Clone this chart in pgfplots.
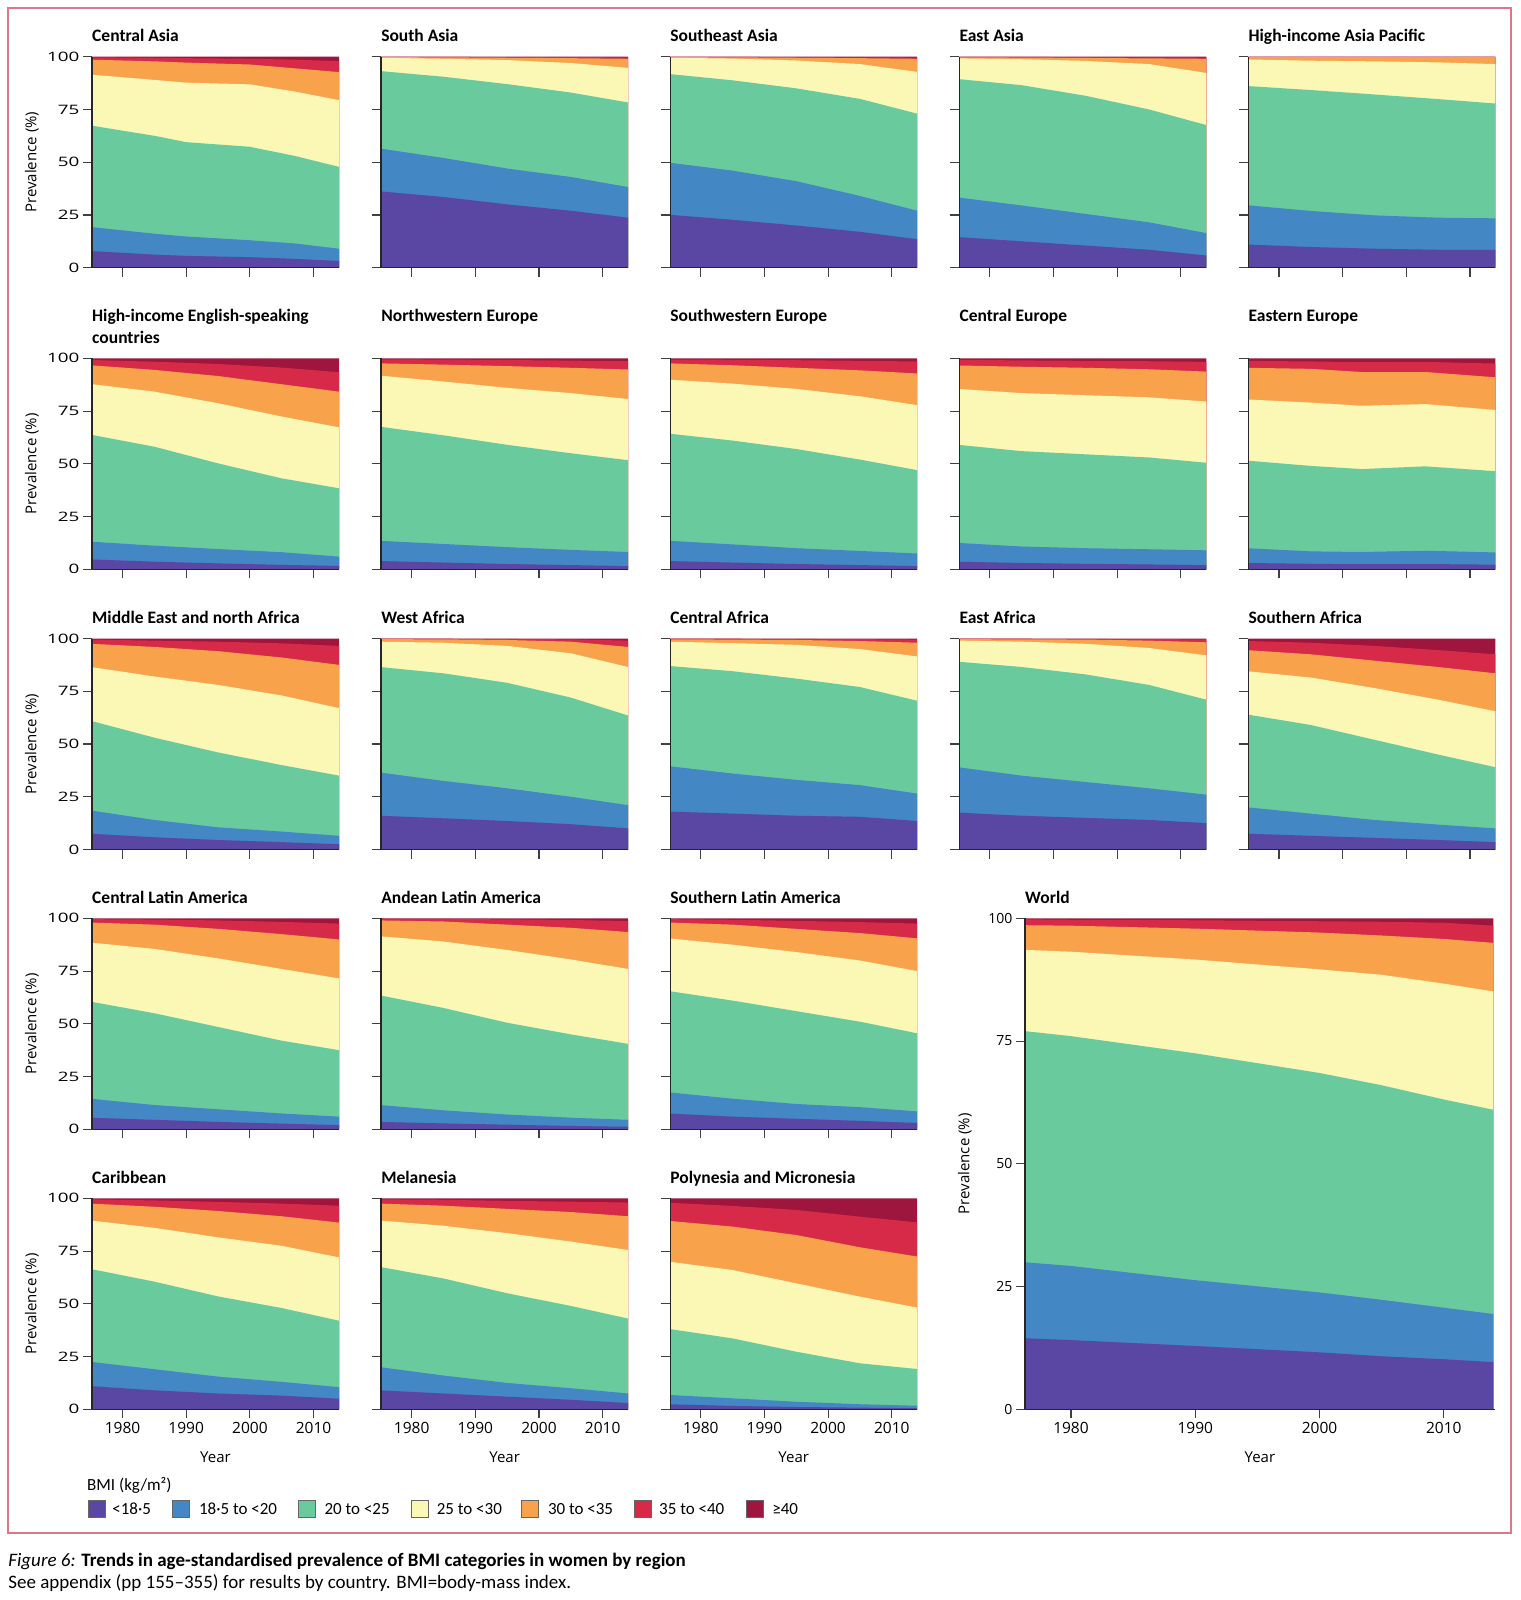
\documentclass[border=0pt]{standalone}
\usepackage{graphicx}
\usepackage{pgfplots}
\pgfplotsset{compat=1.18}
\usepackage{pgfplotstable}
\usepackage{fontspec}
\setmainfont{Carlito}
\newfontfamily\axfont{Open Sans}

\definecolor{cA}{HTML}{5A46A3}
\definecolor{cB}{HTML}{4387C4}
\definecolor{cC}{HTML}{69CA9E}
\definecolor{cD}{HTML}{FAF8B4}
\definecolor{cE}{HTML}{F8A34C}
\definecolor{cF}{HTML}{D72A48}
\definecolor{cG}{HTML}{9E153E}
\definecolor{frm}{HTML}{DE7887}

\newcommand{\ttl}{\fontsize{17.5}{21.6}\selectfont\bfseries}
\newcommand{\tkf}{\axfont\fontsize{14}{16}\selectfont}
\newcommand{\xtkf}{\axfont\fontsize{15.5}{17}\selectfont}
\newcommand{\ytkf}{\axfont\fontsize{13}{15}\selectfont}
\newcommand{\lbf}{\axfont\fontsize{15}{17}\selectfont}
\newcommand{\lgf}{\fontsize{17}{20}\selectfont}
\newcommand{\capf}{\fontsize{19}{22}\selectfont}

% cumulative upper boundaries of the BMI classes (%)
\pgfplotstableread{
yr c1 c2 c3 c4 c5 c6 c7
1975 7.9 19.3 67.4 91.5 98.6 99.7 100
1985 6.2 16.1 62.5 89.0 97.8 99.5 100
1990 5.6 14.8 59.5 87.7 97.2 99.3 100
2000 5.0 13.0 57.3 86.9 96.3 99.0 100
2007 4.2 11.5 53.0 83.5 94.5 98.6 100
2014 3.2 9.0 47.8 79.4 92.7 97.9 100
}\tCA
\pgfplotstableread{
yr c1 c2 c3 c4 c5 c6 c7
1975 36.2 56.5 93.2 99.5 99.8 99.9 100
1985 33.5 52.0 90.5 99.0 99.7 99.9 100
1995 30.0 47.0 87.0 98.4 99.5 99.8 100
2005 27.0 43.0 83.0 97.0 99.3 99.8 100
2014 23.7 38.2 78.3 94.7 99.0 99.7 100
}\tSA
\pgfplotstableread{
yr c1 c2 c3 c4 c5 c6 c7
1975 25.1 49.8 91.8 99.5 99.8 99.9 100
1985 22.7 46.0 88.8 99.1 99.7 99.9 100
1995 20.0 41.0 85.0 98.2 99.5 99.8 100
2005 17.0 34.0 80.0 96.5 99.3 99.7 100
2014 13.5 27.0 73.0 92.8 99.0 99.6 100
}\tSEA
\pgfplotstableread{
yr c1 c2 c3 c4 c5 c6 c7
1975 14.5 33.3 89.4 99.2 99.7 99.9 100
1985 12.5 29.5 86.5 98.8 99.6 99.9 100
1995 10.5 25.5 81.5 98.0 99.4 99.8 100
2005 8.5 21.5 75.0 96.5 99.2 99.7 100
2014 5.8 16.4 67.6 92.3 99.0 99.6 100
}\tEA
\pgfplotstableread{
yr c1 c2 c3 c4 c5 c6 c7
1975 11.0 29.6 86.1 98.7 99.8 99.95 100
1985 9.8 26.9 84.2 98.1 99.8 99.95 100
1995 9.0 24.8 82.1 97.8 99.8 99.95 100
2005 8.5 23.7 79.9 97.3 99.8 99.9 100
2014 8.5 23.4 77.8 96.5 99.8 99.9 100
}\tHIAP
\pgfplotstableread{
yr c1 c2 c3 c4 c5 c6 c7
1975 4.7 13.1 63.8 87.8 96.7 99.2 100
1985 3.6 11.2 58.1 84.2 94.5 98.4 100
1995 2.8 9.6 50.2 78.7 91.6 97.3 100
2005 2.1 8.1 43.1 72.4 87.7 95.6 100
2014 1.6 6.0 38.4 67.3 84.2 93.4 100
}\tHIES
\pgfplotstableread{
yr c1 c2 c3 c4 c5 c6 c7
1975 3.9 13.5 67.6 91.8 97.6 99.5 100
1985 3.2 12.0 63.5 89.0 97.0 99.4 100
1995 2.5 10.5 59.0 86.0 96.3 99.2 100
2005 2.0 9.2 55.0 83.5 95.5 98.9 100
2014 1.5 8.2 51.7 80.7 94.7 98.6 100
}\tNWE
\pgfplotstableread{
yr c1 c2 c3 c4 c5 c6 c7
1975 3.9 13.5 64.3 89.9 97.6 99.4 100
1985 3.2 11.8 61.0 88.0 96.7 99.3 100
1995 2.5 10.0 57.0 85.5 95.5 99.1 100
2005 2.0 8.7 52.0 82.0 94.3 98.8 100
2014 1.5 7.5 47.0 77.8 92.8 98.5 100
}\tSWE
\pgfplotstableread{
yr c1 c2 c3 c4 c5 c6 c7
1975 3.6 12.5 59.0 85.5 96.6 99.3 100
1985 3.0 10.8 56.0 83.5 96.0 99.0 100
1995 2.6 10.0 54.5 82.5 95.5 98.8 100
2005 2.3 9.5 53.0 81.5 94.8 98.6 100
2014 2.0 9.0 50.5 79.5 93.7 98.3 100
}\tCE
\pgfplotstableread{
yr c1 c2 c3 c4 c5 c6 c7
1975 3.0 10.0 51.5 80.5 95.5 98.8 100
1985 2.6 8.5 49.0 79.0 95.0 98.5 100
1993 2.4 8.2 47.5 77.5 93.5 98.2 100
2003 2.5 8.8 48.8 78.3 93.5 98.3 100
2014 2.2 8.0 46.5 75.5 91.0 97.5 100
}\tEE
\pgfplotstableread{
yr c1 c2 c3 c4 c5 c6 c7
1975 7.5 18.5 61.0 86.5 97.5 99.5 100
1985 5.8 14.0 53.0 82.0 96.0 99.0 100
1995 4.5 10.5 46.0 78.0 94.0 98.5 100
2005 3.5 8.5 40.0 73.0 91.0 97.7 100
2014 2.5 6.5 35.0 67.0 87.5 96.5 100
}\tMENA
\pgfplotstableread{
yr c1 c2 c3 c4 c5 c6 c7
1975 16.0 36.5 86.5 98.5 99.7 99.9 100
1985 14.8 32.5 83.5 98.0 99.6 99.9 100
1995 13.5 29.0 79.0 96.5 99.3 99.8 100
2005 12.0 25.0 72.0 93.0 98.5 99.6 100
2014 10.0 21.0 63.5 86.5 96.0 99.0 100
}\tWA
\pgfplotstableread{
yr c1 c2 c3 c4 c5 c6 c7
1975 18.0 39.5 87.0 98.5 99.6 99.9 100
1985 17.0 36.0 84.5 97.8 99.5 99.9 100
1995 16.0 33.0 81.0 97.0 99.3 99.8 100
2005 15.5 30.5 77.0 95.0 98.8 99.7 100
2014 13.5 26.5 70.5 91.5 98.0 99.5 100
}\tCAF
\pgfplotstableread{
yr c1 c2 c3 c4 c5 c6 c7
1975 17.5 39.0 89.0 99.0 99.7 99.9 100
1985 16.0 35.0 86.5 98.5 99.6 99.9 100
1995 15.0 32.0 83.0 97.5 99.5 99.8 100
2005 14.0 29.0 78.0 95.5 99.0 99.7 100
2014 12.5 26.0 71.0 92.0 98.2 99.6 100
}\tEAF
\pgfplotstableread{
yr c1 c2 c3 c4 c5 c6 c7
1975 7.5 20.0 64.0 84.5 94.5 98.8 100
1985 6.5 17.0 59.0 81.5 92.5 98.0 100
1995 5.5 14.0 52.0 76.5 89.5 96.5 100
2005 4.5 11.8 45.0 71.0 86.5 94.5 100
2014 3.5 10.0 39.0 65.5 83.5 92.5 100
}\tSAF
\pgfplotstableread{
yr c1 c2 c3 c4 c5 c6 c7
1975 5.5 14.5 60.5 88.5 98.0 99.6 100
1985 4.5 11.5 55.0 85.5 97.0 99.4 100
1995 3.5 9.5 48.5 81.0 95.0 99.0 100
2005 2.7 7.5 42.0 76.0 92.5 98.3 100
2014 2.0 6.0 37.5 71.5 90.0 97.5 100
}\tCLA
\pgfplotstableread{
yr c1 c2 c3 c4 c5 c6 c7
1975 3.5 11.5 63.5 91.5 99.0 99.8 100
1985 2.8 9.0 57.5 89.0 98.5 99.7 100
1995 2.2 7.0 50.5 85.0 97.0 99.5 100
2005 1.6 5.5 45.0 80.5 95.5 99.2 100
2014 1.2 4.5 40.5 76.0 93.5 98.7 100
}\tALA
\pgfplotstableread{
yr c1 c2 c3 c4 c5 c6 c7
1975 7.5 17.5 65.5 90.5 98.0 99.6 100
1985 6.0 14.5 61.0 87.5 97.0 99.3 100
1995 5.0 12.0 56.0 84.0 95.0 98.8 100
2005 4.0 10.5 51.0 80.0 93.0 98.2 100
2014 3.0 8.5 45.5 75.0 90.5 97.5 100
}\tSLA
\pgfplotstableread{
yr c1 c2 c3 c4 c5 c6 c7
1975 11.0 22.5 66.5 89.5 97.5 99.5 100
1985 9.0 19.0 60.5 86.0 96.0 99.0 100
1995 7.5 15.5 53.5 81.5 94.0 98.3 100
2005 6.5 13.0 48.0 77.5 91.5 97.5 100
2014 5.0 10.5 42.0 72.0 88.5 96.5 100
}\tCAR
\pgfplotstableread{
yr c1 c2 c3 c4 c5 c6 c7
1975 9.0 20.0 67.5 89.5 97.5 99.5 100
1985 7.5 16.0 62.0 87.0 96.5 99.3 100
1995 6.0 12.5 55.0 83.5 95.0 98.8 100
2005 4.5 10.0 49.0 79.5 93.5 98.4 100
2014 3.0 7.5 43.0 75.5 91.5 98.0 100
}\tMEL
\pgfplotstableread{
yr c1 c2 c3 c4 c5 c6 c7
1975 2.4 6.8 38.1 70.0 89.3 97.9 100
1985 1.6 5.2 33.6 66.0 86.6 96.4 100
1995 1.1 3.6 27.3 59.7 82.6 94.5 100
2005 0.8 2.4 21.8 53.4 76.8 91.3 100
2014 0.5 1.7 19.1 48.2 72.4 88.6 100
}\tPOL
\pgfplotstableread{
yr c1 c2 c3 c4 c5 c6 c7
1976 14.5 30.0 77.1 93.6 98.6 99.8 100
1980 14.1 29.2 76.0 93.2 98.5 99.7 100
1990 12.9 26.3 72.5 91.6 97.9 99.6 100
2000 11.6 23.8 68.5 89.6 97.1 99.4 100
2005 10.8 22.3 66.0 88.5 96.5 99.3 100
2010 10.2 20.7 63.1 86.7 95.8 99.1 100
2014 9.6 19.4 61.0 85.1 95.0 98.5 100
}\tW

\pgfplotsset{
  bmibase/.style={scale only axis, anchor=north west, ymin=0, ymax=100,
    axis lines=left, axis line style={-, line width=1.3pt, black!85},
    tick align=outside, major tick length=9pt,
    tick style={line width=1.1pt, black!75},
    ytick={0,25,50,75,100}, xtick={1980,1990,2000,2010},
    axis on top,
    x tick label style={font=\xtkf},
    y tick label style={font=\ytkf},
    /pgf/number format/assume math mode=true,
    /pgf/number format/1000 sep={},
    label style={font=\lbf},
  },
  small/.style={bmibase, width=247pt, height=211pt, xmin=1975.2, xmax=2014,
    yticklabel={\scalebox{1.45}[1]{\pgfmathprintnumber{\tick}}},
    ylabel style={at={(axis description cs:-0.243,0.5)}, anchor=center},
    xlabel style={at={(axis description cs:0.5,-0.2275)}, anchor=center}},
  nox/.style={xticklabels={}},
  noy/.style={yticklabels={}},
  yl/.style={ylabel={Prevalence (\%)}},
  xl/.style={xlabel={Year}},
}

\newcommand{\bmi}[1]{%
  \addplot[draw=none,fill=cG] table[x=yr,y=c7]{#1}\closedcycle;
  \addplot[draw=none,fill=cF] table[x=yr,y=c6]{#1}\closedcycle;
  \addplot[draw=none,fill=cE] table[x=yr,y=c5]{#1}\closedcycle;
  \addplot[draw=none,fill=cD] table[x=yr,y=c4]{#1}\closedcycle;
  \addplot[draw=none,fill=cC] table[x=yr,y=c3]{#1}\closedcycle;
  \addplot[draw=none,fill=cB] table[x=yr,y=c2]{#1}\closedcycle;
  \addplot[draw=none,fill=cA] table[x=yr,y=c1]{#1}\closedcycle;
}
\newcommand{\panel}[4]{%
  \begin{axis}[small, at={(#1pt,-#2pt)}, #4]
  \bmi{#3}
  \end{axis}}

\begin{document}
\begin{tikzpicture}
\useasboundingbox (0,0) rectangle (1520pt,-1600pt);
\draw[frm, line width=1.5pt] (8.2pt,-8.2pt) rectangle (1510.8pt,-1533.2pt);

% row 1
\panel{92}{56.7}{\tCA}{nox,yl}
\panel{381.1}{56.7}{\tSA}{nox,noy}
\panel{670.2}{56.7}{\tSEA}{nox,noy}
\panel{959.3}{56.7}{\tEA}{nox,noy}
\panel{1248.4}{56.7}{\tHIAP}{nox,noy}
% row 2
\panel{92}{358.3}{\tHIES}{nox,yl}
\panel{381.1}{358.3}{\tNWE}{nox,noy}
\panel{670.2}{358.3}{\tSWE}{nox,noy}
\panel{959.3}{358.3}{\tCE}{nox,noy}
\panel{1248.4}{358.3}{\tEE}{nox,noy}
% row 3
\panel{92}{638.5}{\tMENA}{nox,yl}
\panel{381.1}{638.5}{\tWA}{nox,noy}
\panel{670.2}{638.5}{\tCAF}{nox,noy}
\panel{959.3}{638.5}{\tEAF}{nox,noy}
\panel{1248.4}{638.5}{\tSAF}{nox,noy}
% row 4
\panel{92}{918.3}{\tCLA}{nox,yl}
\panel{381.1}{918.3}{\tALA}{nox,noy}
\panel{670.2}{918.3}{\tSLA}{nox,noy}
% row 5
\panel{92}{1198.3}{\tCAR}{yl,xl}
\panel{381.1}{1198.3}{\tMEL}{noy,xl}
\panel{670.2}{1198.3}{\tPOL}{noy,xl}
% world
\begin{axis}[bmibase, at={(1025pt,-918.3pt)}, width=469.7pt, height=491pt,
  xmin=1976.3, xmax=2014.1, ylabel={Prevalence (\%)}, xlabel={Year},
  y tick label style={font=\tkf},
  ylabel style={at={(axis description cs:-0.128,0.5)}, anchor=center},
  xlabel style={at={(axis description cs:0.5,-0.0978)}, anchor=center}]
\bmi{\tW}
\end{axis}

% titles
\begin{scope}[every node/.style={anchor=base west, inner sep=0pt, font=\ttl}]
\node at (92pt,-41.7pt) {Central Asia};
\node at (381.1pt,-41.7pt) {South Asia};
\node at (670.2pt,-41.7pt) {Southeast Asia};
\node at (959.3pt,-41.7pt) {East Asia};
\node at (1248.4pt,-41.7pt) {High-income Asia Pacific};
\node at (92pt,-321.7pt) {High-income English-speaking};
\node at (92pt,-343.3pt) {countries};
\node at (381.1pt,-321.7pt) {Northwestern Europe};
\node at (670.2pt,-321.7pt) {Southwestern Europe};
\node at (959.3pt,-321.7pt) {Central Europe};
\node at (1248.4pt,-321.7pt) {Eastern Europe};
\node at (92pt,-623.5pt) {Middle East and north Africa};
\node at (381.1pt,-623.5pt) {West Africa};
\node at (670.2pt,-623.5pt) {Central Africa};
\node at (959.3pt,-623.5pt) {East Africa};
\node at (1248.4pt,-623.5pt) {Southern Africa};
\node at (92pt,-903.3pt) {Central Latin America};
\node at (381.1pt,-903.3pt) {Andean Latin America};
\node at (670.2pt,-903.3pt) {Southern Latin America};
\node at (1025pt,-903.3pt) {World};
\node at (92pt,-1183.3pt) {Caribbean};
\node at (381.1pt,-1183.3pt) {Melanesia};
\node at (670.2pt,-1183.3pt) {Polynesia and Micronesia};
\end{scope}

% legend
\node[anchor=base west, inner sep=0pt, font=\lgf] at (87pt,-1490pt) {BMI (kg/m²)};
\foreach \c/\x in {cA/88.7, cB/172.4, cC/297.9, cD/411.1, cE/521.3, cF/634.5, cG/746.7}
  \filldraw[fill=\c, draw=black!60, line width=0.8pt] (\x pt,-1500.5pt) rectangle ++(17pt,-16.5pt);
\begin{scope}[every node/.style={anchor=base west, inner sep=0pt, font=\lgf}]
\node at (112.2pt,-1514pt) {<18·5};
\node at (198.9pt,-1514pt) {18·5 to <20};
\node at (324.4pt,-1514pt) {20 to <25};
\node at (436.6pt,-1514pt) {25 to <30};
\node at (547.8pt,-1514pt) {30 to <35};
\node at (659pt,-1514pt) {35 to <40};
\node at (772.2pt,-1514pt) {≥40};
\end{scope}

% caption
\node[anchor=base west, inner sep=0pt, font=\capf] at (8.2pt,-1566pt) {\textit{Figure 6:} \textbf{Trends in age-standardised prevalence of BMI categories in women by region}};
\node[anchor=base west, inner sep=0pt, font=\capf] at (8.2pt,-1588pt) {See appendix (pp 155–355) for results by country. BMI=body-mass index.};
\end{tikzpicture}
\end{document}
